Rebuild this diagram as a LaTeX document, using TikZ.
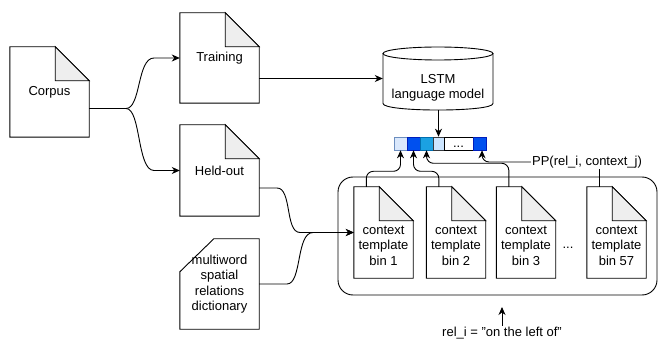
\documentclass[tikz,border=0pt]{standalone}
\usepackage{fontspec}
\setmainfont{Liberation Sans}
\usetikzlibrary{arrows.meta}
\definecolor{foldgray}{HTML}{EEEEEE}
\definecolor{cA}{HTML}{DAE8FC}
\definecolor{cAb}{HTML}{6C8EBF}
\definecolor{cB}{HTML}{0050EF}
\definecolor{cBb}{HTML}{001DBC}
\definecolor{cC}{HTML}{1BA1E2}
\definecolor{cCb}{HTML}{006EAF}
\definecolor{cD}{HTML}{CCE5FF}
\definecolor{cDb}{HTML}{36393D}
\pgfdeclarelayer{background}
\pgfsetlayers{background,main}
\newcommand\docshape[1]{%
  \begin{pgfonlayer}{background}
  \draw[ln] (#1.north west) -- ([xshift=-34pt]#1.north east) -- ([yshift=-34pt]#1.north east) -- (#1.south east) -- (#1.south west) -- cycle;
  \draw[ln, fill=foldgray] ([xshift=-34pt]#1.north east) -- ([xshift=-34pt,yshift=-34pt]#1.north east) -- ([yshift=-34pt]#1.north east) -- cycle;
  \end{pgfonlayer}}
\begin{document}
\begin{tikzpicture}[x=1pt,y=-1pt, font=\fontsize{13}{15.5}\selectfont,
  ln/.style={line width=0.9pt},
  doc/.style={minimum width=79pt, minimum height=90pt, inner sep=0pt, align=center},
  bindoc/.style={minimum width=59pt, minimum height=91pt, inner sep=0pt},
  bintext/.style={inner sep=0pt, align=center},
  arr/.style={ln, -{Stealth[length=8pt,width=7pt,inset=2.5pt]}},
  cell/.style={minimum height=13pt, inner sep=0pt, line width=0.6pt},
  lbl/.style={inner sep=1pt}]
\useasboundingbox (0,0) rectangle (658,347);

% documents
\node[doc] (corpus) at (49.5,92) {Corpus};
\node[doc] (train) at (219.5,58) {Training};
\node[doc, minimum height=91pt] (held) at (219.5,170.5) {Held-out};
\node[doc] (dict) at (219.5,284) {multiword\\spatial\\relations\\dictionary};
\docshape{corpus}
\docshape{train}
\docshape{held}
\draw[ln] (dict.south west) -- ([yshift=-33pt]dict.north west) -- ([xshift=34pt]dict.north west) -- (dict.north east) -- (dict.south east) -- cycle;

% container
\node[draw, ln, rounded corners=15pt, minimum width=319pt, minimum height=118pt] (box) at (497.5,236) {};

% bins
\node[bindoc] (bin1) at (383.5,232.5) {};
\node[bindoc] (bin2) at (456,232.5) {};
\node[bindoc] (bin3) at (526,232.5) {};
\node[bindoc] (bin57) at (616.5,232.5) {};
\docshape{bin1}
\docshape{bin2}
\docshape{bin3}
\docshape{bin57}
\node[bintext] (bin1t) at (383.5,245.5) {context\\template\\bin 1};
\node[bintext] (bin2t) at (456,245.5) {context\\template\\bin 2};
\node[bintext] (bin3t) at (526,245.5) {context\\template\\bin 3};
\node[bintext] (bin57t) at (616.5,245.5) {context\\template\\bin 57};
\node[anchor=base] (dots) at (568,249) {...};

% LSTM cylinder
\node[minimum width=110pt, minimum height=63pt, inner sep=0pt] (lstm) at (438,78.5) {};
\draw[ln] (438,53.5) ellipse [x radius=55pt, y radius=6.5pt];
\draw[ln] (383,53.5) -- (383,103.5) .. controls (383,112.2) and (493,112.2) .. (493,103.5) -- (493,53.5);
\node[align=center, inner sep=0pt] (lstmtext) at (438,88) {LSTM\\language model};

% array
\node[cell, minimum width=13pt, fill=cA, draw=cAb] (cell1) at (400.5,143.5) {};
\node[cell, minimum width=13pt, fill=cB, draw=cBb] (cell2) at (413.5,143.5) {};
\node[cell, minimum width=13pt, fill=cC, draw=cCb] (cell3) at (426.5,143.5) {};
\node[cell, minimum width=11pt, fill=cD, draw=cDb] (cell4) at (438.5,143.5) {};
\node[cell, minimum width=29pt, fill=white, draw=black] (cell5) at (458.5,143.5) {};
\node[cell, minimum width=13pt, fill=cB, draw=cBb] (cell6) at (479.5,143.5) {};
\node[anchor=base, inner sep=0pt] (cdots) at (458.5,148) {...};

% labels
\node[lbl] (pp) at (587,162) {PP(rel\_i, context\_j)};
\node[lbl] (rel) at (502,333) {rel\_i = "on the left of"};
\coordinate (relto) at (500,307);

% connectors
\coordinate (cout) at ([yshift=-16.5pt]corpus.east);
\draw[arr] (cout) -- (126,108.5) .. controls (141,108.5) and (137,58) .. (154,58) -- (train.west);
\draw[arr] (cout) -- (126,108.5) .. controls (141,108.5) and (137,170.5) .. (154,170.5) -- (held.west);
\draw[arr] (lstm.west -| train.east) -- (lstm.west);
\draw[arr] (cell4.north |- lstm.south) -- (cell4.north);
\draw[arr] ([yshift=-17.5pt]held.east) -- (277,188) .. controls (292,188) and (285,232.5) .. (300,232.5) -- (bin1.west);
\draw[arr] (dict.east) -- (287,284) .. controls (302,284) and (296,232.5) .. (313,232.5) -- (bin1.west);

\coordinate (b1top) at ([xshift=12.5pt]bin1.north west);
\coordinate (b2top) at ([xshift=12.5pt]bin2.north west);
\coordinate (b3top) at ([xshift=12.5pt]bin3.north west);
\coordinate (b57top) at ([xshift=12.5pt]bin57.north west);
\draw[arr, rounded corners=7pt] (b1top) |- ([yshift=-21pt]cell1.south) -- (cell1.south);
\draw[arr, rounded corners=7pt] (b2top) |- ([yshift=-21pt]cell2.south) -- (cell2.south);
\draw[arr, rounded corners=7pt] (b3top) |- ([yshift=-13pt]cell3.south) -- (cell3.south);
\draw[arr, rounded corners=7pt] (pp.west) -| ([xshift=2.5pt]cell6.south);
\draw[ln] (b57top) -- (b57top |- pp.south);
\draw[arr] (rel.north) -- (rel.north |- relto);
\end{tikzpicture}
\end{document}
